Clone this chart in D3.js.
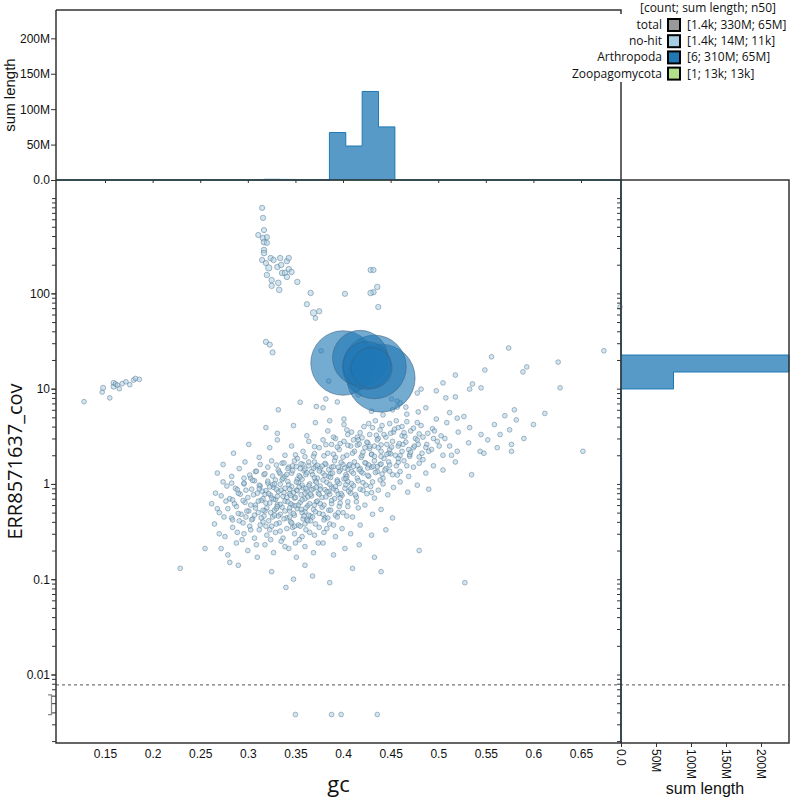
<!DOCTYPE html>
<html><head><meta charset="utf-8">
<script src="https://cdn.jsdelivr.net/npm/d3@7"></script>
<style>body{margin:0;background:#fff}svg{display:block}</style>
</head><body><svg id="c" width="800" height="800"></svg>
<script>
// ---------------- data ----------------
const categories = ["total", "no-hit", "Arthropoda", "Zoopagomycota"];
const categoryColors = ["#999999", "#a6cee3", "#1f78b4", "#b2df8a"];
const legendValues = ["[1.4k; 330M; 65M]", "[1.4k; 14M; 11k]", "[6; 310M; 65M]", "[1; 13k; 13k]"];
const legendHeader = "[count; sum length; n50]";

const gcTicks = [0.15, 0.2, 0.25, 0.3, 0.35, 0.4, 0.45, 0.5, 0.55, 0.6, 0.65];
const gcTickLabels = ["0.15", "0.2", "0.25", "0.3", "0.35", "0.4", "0.45", "0.5", "0.55", "0.6", "0.65"];
const covTicks = [0.01, 0.1, 1, 10, 100];
const covTickLabels = ["0.01", "0.1", "1", "10", "100"];
const lengthTicks = [0, 50e6, 100e6, 150e6, 200e6];
const lengthTickLabels = ["0.0", "50M", "100M", "150M", "200M"];

const gcDomain = [0.0985, 0.692];
const covDomain = [0.00191, 1549];
const lengthMax = 240e6;
const covThreshold = 0.0078;
const zeroCovDisplay = 0.0038;
const zeroBracket = [0.0061, 0.0038];
const gcBinStart = 0.0933, gcBinWidth = 0.0172, gcBinCount = 36;
const covBinLogStart = -2.741, covBinLogWidth = 0.178, covBinCount = 34;

// Arthropoda contigs
const arthGc = [0.400, 0.418, 0.433, 0.440, 0.425, 0.430];
const arthCov = [18.6, 21.0, 16.9, 12.9, 17.5, 16.5];
const arthLen = [67e6, 48e6, 65e6, 75e6, 35e6, 25e6];
// Zoopagomycota contig
const zoopGc = [0.425];
const zoopCov = [17];
const zoopLen = [13000];

// no-hit contigs: [gc, coverage, length (default 10 kb)]
const noHitPoints = [
[0.128,7.3],[0.147,9.2],[0.148,10.2,25000],[0.155,8.0],[0.159,11.5,25000],[0.159,10.5,25000],[0.161,11.2],[0.163,10.9],[0.168,11.3],[0.172,11.8],[0.176,11.0],[0.18,12.3],[0.182,12.8],[0.186,12.5],[0.165,10.0],
[0.315,790,30000],[0.316,620,30000],[0.317,462,30000],[0.311,410,30000],[0.316,381,50000],[0.320,390,30000],[0.317,345,50000],[0.320,339,30000],[0.317,285,50000],[0.317,265,50000],[0.315,224,30000],[0.319,208,30000],[0.324,235,40000],[0.327,224,40000],[0.334,235,40000],[0.341,218,40000],[0.343,235,40000],[0.322,185,100000],[0.331,189,40000],[0.335,199,40000],[0.336,164,50000],[0.339,164,50000],[0.341,149,50000],[0.343,180,40000],[0.346,168,40000],[0.320,156,40000],[0.325,138,40000],[0.325,120,40000],[0.332,129,50000],[0.333,109,50000],[0.352,132,40000],[0.366,101,40000],[0.402,99,30000],[0.429,176,30000],[0.432,176,30000],[0.436,117,40000],[0.432,103,40000],[0.429,101,50000],[0.362,77,30000],[0.369,62.5,100000],[0.375,65,30000],[0.437,72,30000],[0.371,55],[0.319,31,30000],[0.323,29,30000],[0.326,24,25000],[0.377,25],
[0.556,21.6],[0.574,26.7],[0.593,16.9],[0.589,15],[0.626,19],[0.674,25],[0.691,72],[0.628,10.2],[0.545,10.2],[0.533,9.9],[0.518,13.9],[0.549,15.7],[0.505,11.5],[0.498,9.5],[0.508,8.0],[0.518,8.2],[0.536,11.2],[0.482,9.9],[0.385,12.0],
[0.577,2.6],[0.577,2.2],[0.575,3.7],[0.582,4.7],[0.58,6.0],[0.652,2.2],[0.559,4.2],[0.565,3.3],[0.552,2.9],[0.544,2.2],[0.52,4.9],[0.60,4.2],[0.59,3.0],[0.612,5.5],[0.57,5.2],
[0.382,7.8],[0.394,7.25],[0.379,6.3],[0.416,8.6],[0.451,7.8],[0.457,7.4],[0.460,7.1],[0.478,9.0],[0.479,5.7],[0.466,6.4],[0.467,5.4],[0.457,6.4],[0.452,6.0],[0.442,5.3],[0.430,5.8],[0.401,4.8],[0.355,7.2],[0.332,6.0],[0.372,6.5],[0.498,4.8],[0.512,5.6],[0.527,5.1],[0.487,6.3],
[0.331,3.4],[0.348,4.1],[0.362,3.2],[0.371,4.4],[0.384,3.6],[0.392,3.0],[0.401,4.2],[0.409,3.5],[0.415,3.1],[0.422,4.0],[0.428,3.3],[0.434,4.6],[0.439,3.7],[0.445,3.1],[0.449,4.3],[0.453,3.5],[0.458,3.9],[0.462,3.2],[0.467,4.5],[0.471,3.6],[0.476,3.0],[0.482,4.1],[0.489,3.4],[0.494,3.8],[0.503,3.2],[0.509,4.4],[0.521,3.5],[0.533,3.9],[0.545,3.3],[0.319,3.9],[0.386,4.6],[0.437,3.0],[0.456,4.6],
[0.285,2.1],[0.301,2.6],[0.312,1.9],[0.323,2.4],[0.331,2.9],[0.339,2.0],[0.346,2.5],[0.352,1.85],[0.358,2.2],[0.364,2.8],[0.369,1.95],[0.375,2.4],[0.379,2.9],[0.384,2.1],[0.388,2.6],[0.392,1.9],[0.396,2.3],[0.401,2.8],[0.404,2.0],[0.408,2.5],[0.412,2.2],[0.416,2.9],[0.419,1.9],[0.423,2.4],[0.426,2.7],[0.43,2.05],[0.433,2.5],[0.436,2.9],[0.44,2.2],[0.443,1.85],[0.446,2.6],[0.449,2.3],[0.452,2.8],[0.455,2.0],[0.458,2.5],[0.462,2.2],[0.466,2.75],[0.47,1.95],[0.474,2.4],[0.478,2.9],[0.483,2.1],[0.488,2.6],[0.493,2.3],[0.499,2.8],[0.505,2.0],[0.512,2.5],[0.52,2.2],[0.532,2.7],[0.548,2.1],[0.562,2.4],[0.415,2.55],[0.397,2.65],[0.428,2.35],
[0.268,1.3],[0.274,1.6],[0.283,1.2],[0.291,1.45],[0.297,1.7],[0.303,1.15],[0.308,1.35],[0.313,1.6],[0.317,1.25],[0.321,1.5],[0.325,1.75],[0.329,1.1],[0.332,1.4],[0.336,1.65],[0.339,1.2],[0.343,1.5],[0.346,1.3],[0.349,1.75],[0.352,1.12],[0.355,1.45],[0.358,1.6],[0.361,1.25],[0.364,1.55],[0.367,1.35],[0.37,1.7],[0.373,1.15],[0.376,1.45],[0.379,1.3],[0.382,1.6],[0.385,1.2],[0.388,1.5],[0.391,1.75],[0.394,1.1],[0.397,1.4],[0.4,1.6],[0.403,1.25],[0.406,1.55],[0.409,1.35],[0.412,1.7],[0.415,1.15],[0.418,1.45],[0.421,1.3],[0.424,1.65],[0.427,1.2],[0.43,1.5],[0.433,1.75],[0.436,1.35],[0.439,1.6],[0.442,1.15],[0.445,1.45],[0.448,1.7],[0.452,1.25],[0.456,1.55],[0.46,1.35],[0.464,1.75],[0.469,1.2],[0.474,1.5],[0.48,1.65],[0.487,1.3],[0.495,1.55],[0.505,1.4],[0.518,1.7],[0.535,1.25],[0.359,1.38],[0.387,1.28],[0.405,1.42],[0.427,1.58],[0.334,1.28],[0.371,1.52],
[0.272,0.75],[0.278,0.95],[0.266,0.8],[0.274,1.05],[0.281,0.7],[0.287,0.9],[0.292,0.78],[0.296,1.0],[0.3,0.72],[0.304,0.88],[0.307,1.08],[0.31,0.8],[0.313,0.95],[0.316,0.7],[0.319,0.85],[0.321,1.02],[0.324,0.76],[0.327,0.92],[0.329,0.69],[0.332,0.83],[0.334,0.99],[0.337,0.74],[0.339,0.9],[0.342,1.06],[0.344,0.79],[0.346,0.94],[0.349,0.71],[0.351,0.86],[0.353,1.03],[0.356,0.77],[0.358,0.91],[0.36,0.7],[0.362,0.84],[0.365,1.0],[0.367,0.75],[0.369,0.89],[0.371,1.07],[0.374,0.8],[0.376,0.95],[0.378,0.72],[0.381,0.87],[0.383,1.04],[0.386,0.78],[0.388,0.93],[0.391,0.7],[0.393,0.85],[0.396,1.01],[0.399,0.76],[0.402,0.9],[0.405,1.06],[0.408,0.8],[0.411,0.96],[0.414,0.73],[0.418,0.88],[0.421,1.03],[0.425,0.79],[0.429,0.94],[0.433,0.71],[0.437,0.86],[0.442,1.0],[0.447,0.77],[0.453,0.92],[0.46,1.05],[0.468,0.82],[0.478,0.97],[0.49,0.88],[0.335,0.86],[0.348,0.81],[0.357,0.97],[0.363,0.73],[0.372,0.92],[0.385,0.83],[0.395,0.78],[0.403,0.98],[0.318,0.78],[0.326,0.98],[0.341,0.72],[0.354,0.93],
[0.268,0.55],[0.275,0.45],[0.262,0.62],[0.27,0.5],[0.277,0.66],[0.283,0.44],[0.288,0.58],[0.293,0.48],[0.297,0.64],[0.301,0.52],[0.305,0.43],[0.308,0.6],[0.311,0.5],[0.314,0.67],[0.317,0.46],[0.32,0.56],[0.323,0.63],[0.326,0.45],[0.328,0.53],[0.331,0.61],[0.334,0.48],[0.336,0.57],[0.339,0.66],[0.341,0.44],[0.344,0.52],[0.347,0.6],[0.349,0.47],[0.352,0.55],[0.355,0.64],[0.358,0.43],[0.36,0.51],[0.363,0.59],[0.366,0.46],[0.369,0.54],[0.372,0.65],[0.375,0.49],[0.378,0.57],[0.381,0.44],[0.385,0.53],[0.388,0.62],[0.392,0.47],[0.396,0.58],[0.4,0.5],[0.405,0.65],[0.41,0.45],[0.416,0.56],[0.423,0.6],[0.431,0.48],[0.44,0.54],[0.452,0.44],[0.33,0.55],[0.345,0.62],[0.357,0.5],[0.318,0.52],[0.362,0.42],[0.37,0.6],
[0.27,0.3],[0.265,0.38],[0.276,0.28],[0.284,0.35],[0.291,0.41],[0.296,0.3],[0.302,0.36],[0.307,0.27],[0.312,0.33],[0.316,0.4],[0.32,0.29],[0.325,0.36],[0.329,0.31],[0.333,0.39],[0.337,0.27],[0.341,0.34],[0.345,0.4],[0.349,0.3],[0.353,0.37],[0.357,0.28],[0.361,0.33],[0.366,0.41],[0.37,0.29],[0.375,0.35],[0.38,0.31],[0.386,0.38],[0.392,0.28],[0.399,0.34],[0.408,0.3],[0.418,0.37],[0.43,0.29],[0.445,0.33],[0.323,0.33],[0.347,0.35],[0.36,0.38],
[0.272,0.21],[0.279,0.18],[0.288,0.24],[0.3,0.2],[0.31,0.17],[0.318,0.23],[0.327,0.19],[0.335,0.25],[0.343,0.21],[0.351,0.17],[0.36,0.22],[0.369,0.19],[0.379,0.24],[0.39,0.18],[0.402,0.21],[0.417,0.23],[0.433,0.17],[0.48,0.2],[0.255,0.21],[0.35,0.24],
[0.229,0.13],[0.29,0.14],[0.325,0.12],[0.348,0.1],[0.368,0.108],[0.386,0.092],[0.34,0.082],[0.41,0.13],[0.44,0.12],[0.528,0.092],[0.36,0.14],[0.281,0.15],
[0.302,1.24],[0.309,1.36],[0.318,1.28],[0.326,1.21],[0.333,1.33],[0.341,1.26],[0.347,1.38],[0.354,1.22],[0.362,1.31],[0.368,1.25],[0.375,1.37],[0.381,1.23],[0.389,1.3],[0.396,1.35],[0.404,1.2],[0.411,1.29],[0.419,1.34],[0.426,1.23],[0.434,1.32],[0.441,1.27],[0.449,1.36],[0.457,1.24],
[0.296,1.02],[0.305,1.09],[0.312,0.97],[0.321,1.07],[0.328,1.0],[0.336,1.11],[0.343,0.98],[0.351,1.05],[0.357,1.12],[0.364,0.96],[0.372,1.04],[0.379,1.1],[0.386,0.99],[0.394,1.06],[0.401,1.13],[0.409,1.01],[0.416,1.08],[0.424,0.97],[0.431,1.05],[0.439,1.1],
[0.29,0.8],[0.298,0.86],[0.306,0.77],[0.315,0.84],[0.322,0.79],[0.33,0.88],[0.338,0.81],[0.345,0.76],[0.352,0.85],[0.36,0.8],[0.367,0.87],[0.375,0.78],[0.383,0.83],[0.39,0.89],[0.398,0.79],[0.406,0.84],[0.413,0.77],[0.421,0.86],[0.43,0.81],
[0.286,0.62],[0.295,0.67],[0.303,0.6],[0.311,0.66],[0.319,0.63],[0.327,0.69],[0.334,0.61],[0.342,0.65],[0.35,0.59],[0.357,0.68],[0.365,0.62],[0.373,0.66],[0.38,0.6],[0.388,0.67],[0.397,0.63],[0.405,0.58],[0.414,0.65],
[0.29,0.49],[0.299,0.52],[0.307,0.47],[0.316,0.53],[0.324,0.5],[0.332,0.46],[0.339,0.52],[0.348,0.49],[0.356,0.54],[0.364,0.47],[0.371,0.51],[0.379,0.48],[0.387,0.53],[0.395,0.5],[0.404,0.46],
[0.295,0.39],[0.304,0.42],[0.313,0.37],[0.322,0.41],[0.33,0.38],[0.338,0.43],[0.346,0.39],[0.355,0.36],[0.363,0.41],[0.371,0.38],[0.38,0.42],[0.39,0.37],
[0.33,1.58],[0.338,1.66],[0.347,1.55],[0.356,1.63],[0.364,1.7],[0.373,1.57],[0.381,1.64],[0.39,1.52],[0.398,1.68],[0.407,1.6],[0.415,1.56],[0.423,1.67],[0.432,1.53],[0.44,1.62],[0.449,1.58],[0.458,1.69],[0.467,1.55],
[0.35,2.02],[0.36,1.93],[0.37,2.08],[0.38,1.97],[0.39,2.05],[0.4,1.91],[0.41,2.1],[0.42,1.99],[0.43,2.04],[0.44,1.94],[0.45,2.07],[0.46,1.98],[0.47,2.03],[0.48,1.92],
[0.37,2.46],[0.382,2.58],[0.394,2.43],[0.405,2.55],[0.417,2.62],[0.428,2.48],[0.44,2.57],[0.451,2.44],[0.463,2.6],[0.475,2.5],[0.487,2.42],
[0.39,3.1],[0.405,3.3],[0.42,3.05],[0.435,3.25],[0.45,3.4],[0.465,3.15],[0.48,3.35],[0.495,3.0],
[0.323,0.93],[0.331,0.74],[0.337,1.15],[0.344,0.88],[0.35,0.72],[0.355,1.18],[0.361,0.9],[0.366,0.78],[0.37,1.16],[0.376,0.88],[0.382,0.73],[0.387,1.17],[0.392,0.94],[0.397,0.71],[0.403,1.14],[0.408,0.89],[0.344,0.56],[0.353,0.6],[0.361,0.56],[0.368,0.45],[0.376,0.62],[0.384,0.44],[0.331,0.58],[0.325,0.71],[0.312,0.89],[0.308,0.56],[0.342,1.45],[0.351,1.52],[0.36,1.43],[0.369,1.46],[0.378,1.54],[0.385,1.41],[0.395,1.5],[0.402,1.47],[0.411,1.53],[0.417,1.41],[0.426,1.47],[0.436,1.52],[0.444,1.4],
[0.404,3.7],[0.411,2.9],[0.418,3.45],[0.425,2.75],[0.431,3.9],[0.437,2.4],[0.443,3.3],[0.448,2.1],[0.454,3.75],[0.459,2.65],[0.464,3.45],[0.469,2.3],[0.474,3.85],[0.479,2.6],[0.484,3.1],[0.49,2.2],[0.496,3.6],[0.501,2.5],[0.507,3.0],[0.514,2.0],[0.421,2.15],[0.433,1.95],[0.446,2.05],[0.458,1.85],[0.471,2.15],[0.484,1.8],[0.441,4.1],[0.427,4.3],[0.462,4.0],[0.478,4.4],
[0.284,0.42],[0.289,0.31],[0.294,0.26],[0.298,0.45],[0.303,0.33],[0.309,0.23],[0.314,0.44],[0.319,0.36],[0.324,0.26],[0.328,0.47],[0.334,0.32],[0.339,0.22],[0.344,0.45],[0.349,0.36],[0.354,0.26],[0.359,0.46],[0.365,0.31],[0.374,0.24],[0.383,0.34],[0.394,0.45],[0.279,0.55],[0.284,0.68],[0.289,0.87],[0.283,1.02],[0.296,1.15],
[0.35,0],[0.388,0],[0.398,0],[0.436,0]
];

// ---------------- drawing ----------------
const svg = d3.select("#c");
const L = 56, R = 621, T = 180, B = 743, TOPH = 10, RIGHTH = 789;
const tickFont = "'Liberation Sans', Arial, Helvetica, sans-serif";
const labelFont = "'Open Sans', sans-serif";
const axisColor = "#333";

const x = d3.scaleLinear().domain(gcDomain).range([L, R]);
const y = d3.scaleLog().domain(covDomain).range([B, T]);
const hTop = d3.scaleLinear().domain([0, lengthMax]).range([T, TOPH]);
const hRight = d3.scaleLinear().domain([0, lengthMax]).range([R, RIGHTH]);
const rScale = d3.scaleSqrt().domain([0, d3.max(arthLen)]).range([2, 34]);

const covPos = c => y(c > 0 ? c : zeroCovDisplay);

const noHit = noHitPoints.map(p => ({gc: p[0], cov: p[1], len: p[2] || 10000}));
const arth = arthGc.map((g, i) => ({gc: g, cov: arthCov[i], len: arthLen[i]}));
const zoop = zoopGc.map((g, i) => ({gc: g, cov: zoopCov[i], len: zoopLen[i]}));

// histogram bins
const gcEdges = d3.range(gcBinCount + 1).map(i => gcBinStart + i * gcBinWidth);
const covEdges = d3.range(covBinCount + 1).map(i => Math.pow(10, covBinLogStart + i * covBinLogWidth));
function sumBins(pts, edges, acc) {
  const sums = new Array(edges.length - 1).fill(0);
  pts.forEach(p => {
    const v = acc(p);
    for (let i = 0; i < edges.length - 1; i++) {
      if (v >= edges[i] && v < edges[i + 1]) { sums[i] += p.len; break; }
    }
  });
  return sums;
}
const clampX = v => Math.max(L, Math.min(R, v));
const clampY = v => Math.max(T, Math.min(B, v));
function topPath(sums) {
  let d = `M${clampX(x(gcEdges[0]))},${hTop(0)}`;
  sums.forEach((s, i) => {
    d += `L${clampX(x(gcEdges[i]))},${hTop(s)}L${clampX(x(gcEdges[i + 1]))},${hTop(s)}`;
  });
  d += `L${clampX(x(gcEdges[gcEdges.length - 1]))},${hTop(0)}Z`;
  return d;
}
function rightPath(sums) {
  let d = `M${hRight(0)},${clampY(y(covEdges[0]))}`;
  sums.forEach((s, i) => {
    d += `L${hRight(s)},${clampY(y(covEdges[i]))}L${hRight(s)},${clampY(y(covEdges[i + 1]))}`;
  });
  d += `L${hRight(0)},${clampY(y(covEdges[covEdges.length - 1]))}Z`;
  return d;
}

const histSeries = [
  {pts: noHit, color: categoryColors[1]},
  {pts: zoop, color: categoryColors[3]},
  {pts: arth, color: categoryColors[2]}
];
histSeries.forEach(s => {
  svg.append("path").attr("d", topPath(sumBins(s.pts, gcEdges, p => p.gc)))
    .attr("fill", s.color).attr("fill-opacity", 0.75).attr("stroke", s.color).attr("stroke-width", 1);
  svg.append("path").attr("d", rightPath(sumBins(s.pts.filter(p => p.cov > 0), covEdges, p => p.cov)))
    .attr("fill", s.color).attr("fill-opacity", 0.75).attr("stroke", s.color).attr("stroke-width", 1);
});

// threshold line and zero bracket
svg.append("line").attr("x1", L).attr("x2", RIGHTH).attr("y1", y(covThreshold)).attr("y2", y(covThreshold))
  .attr("stroke", "#777").attr("stroke-width", 1.2).attr("stroke-dasharray", "3,3");
svg.append("path")
  .attr("d", `M${L - 8},${y(zeroBracket[0])}H${L - 4.5}V${y(zeroBracket[1])}H${L - 8}`)
  .attr("fill", "none").attr("stroke", "#888").attr("stroke-width", 1.2);

// scatter points
const plot = svg.append("g");
plot.selectAll("circle.nh").data(noHit).join("circle").attr("class", "nh")
  .attr("cx", d => x(d.gc)).attr("cy", d => covPos(d.cov)).attr("r", d => rScale(d.len))
  .attr("fill", categoryColors[1]).attr("fill-opacity", 0.5)
  .attr("stroke", "#50708a").attr("stroke-opacity", 0.6).attr("stroke-width", 0.8);
plot.selectAll("circle.zp").data(zoop).join("circle").attr("class", "zp")
  .attr("cx", d => x(d.gc)).attr("cy", d => covPos(d.cov)).attr("r", d => rScale(d.len))
  .attr("fill", categoryColors[3]).attr("fill-opacity", 0.6)
  .attr("stroke", "#5a7a4a").attr("stroke-opacity", 0.6).attr("stroke-width", 0.8);
plot.selectAll("circle.ar").data(arth.slice().sort((a, b) => b.len - a.len)).join("circle").attr("class", "ar")
  .attr("cx", d => x(d.gc)).attr("cy", d => covPos(d.cov)).attr("r", d => rScale(d.len))
  .attr("fill", categoryColors[2]).attr("fill-opacity", 0.62)
  .attr("stroke", "#3b5f7d").attr("stroke-opacity", 0.55).attr("stroke-width", 1);

// ---------------- axes ----------------
function styleAxis(g) {
  g.selectAll(".domain").remove();
  g.selectAll("line").attr("stroke", axisColor);
  g.selectAll("text").attr("font-family", tickFont).attr("font-size", 12).attr("fill", "#111");
}
const minorCov = [];
for (let e = -3; e <= 3; e++) for (let m = 1; m <= 9; m++) {
  const v = m * Math.pow(10, e);
  if (v >= covDomain[0] && v <= covDomain[1]) minorCov.push(v);
}
svg.append("g").attr("transform", `translate(${L},0)`)
  .call(d3.axisLeft(y).tickValues(minorCov).tickSize(4).tickFormat(""))
  .call(styleAxis);
svg.append("g").attr("transform", `translate(${L},0)`)
  .call(d3.axisLeft(y).tickValues(covTicks).tickSize(5).tickPadding(1).tickFormat((d, i) => covTickLabels[i]))
  .call(styleAxis);
svg.append("g").attr("transform", `translate(${R},0)`)
  .call(d3.axisLeft(y).tickValues(minorCov).tickSize(4).tickFormat(""))
  .call(styleAxis);
svg.append("g").attr("transform", `translate(0,${B})`)
  .call(d3.axisBottom(x).tickValues(gcTicks).tickSize(0).tickPadding(6).tickFormat((d, i) => gcTickLabels[i]))
  .call(styleAxis);
svg.append("g").attr("transform", `translate(0,${T})`)
  .call(d3.axisBottom(x).tickValues(gcTicks).tickSize(3).tickFormat(""))
  .call(styleAxis);
svg.append("g").attr("transform", `translate(${L},0)`)
  .call(d3.axisLeft(hTop).tickValues(lengthTicks).tickSize(5).tickPadding(1).tickFormat((d, i) => lengthTickLabels[i]))
  .call(styleAxis);
const rax = svg.append("g").attr("transform", `translate(0,${B})`)
  .call(d3.axisBottom(hRight).tickValues(lengthTicks).tickSize(4).tickFormat((d, i) => lengthTickLabels[i]))
  .call(styleAxis);
rax.selectAll("text").attr("transform", "rotate(90)").attr("x", 6).attr("y", 0).attr("dy", "0.35em")
  .attr("text-anchor", "start");

// frames
const frame = svg.append("g").attr("stroke", axisColor).attr("stroke-width", 1.5).attr("fill", "none");
frame.append("path").attr("d", `M${L},${TOPH}V${B}H${RIGHTH}V${T}H${R}`);
frame.append("path").attr("d", `M${L},${T}H${R}V${TOPH}H${L}`);
frame.append("path").attr("d", `M${R},${T}V${B}`);

// axis titles
svg.append("text").attr("transform", `translate(22,${(T + B) / 2}) rotate(-90)`).attr("text-anchor", "middle")
  .attr("font-family", labelFont).attr("font-size", 20).attr("fill", "#111").text("ERR8571637_cov");
svg.append("text").attr("x", (L + R) / 2).attr("y", 792).attr("text-anchor", "middle")
  .attr("font-family", labelFont).attr("font-size", 22).attr("fill", "#111").text("gc");
svg.append("text").attr("transform", `translate(15,${(T + TOPH) / 2}) rotate(-90)`).attr("text-anchor", "middle")
  .attr("font-family", tickFont).attr("font-size", 15).attr("fill", "#111").text("sum length");
svg.append("text").attr("x", (R + RIGHTH) / 2).attr("y", 794).attr("text-anchor", "middle")
  .attr("font-family", tickFont).attr("font-size", 16).attr("fill", "#111").text("sum length");

// ---------------- legend ----------------
svg.append("rect").attr("x", 578).attr("y", 14).attr("width", 222).attr("height", 68).attr("fill", "#fff");
const lg = svg.append("g").attr("font-family", labelFont).attr("font-size", 12).attr("fill", "#111");
lg.append("text").attr("x", 776).attr("y", 12).attr("text-anchor", "end").text(legendHeader);
categories.forEach((c, i) => {
  const cy = 25 + i * 16.2;
  lg.append("rect").attr("x", 668).attr("y", cy - 6).attr("width", 12).attr("height", 12)
    .attr("fill", categoryColors[i]).attr("stroke", "#000").attr("stroke-width", 2);
  lg.append("text").attr("x", 662).attr("y", cy + 4).attr("text-anchor", "end").text(c);
  lg.append("text").attr("x", 687).attr("y", cy + 4).attr("text-anchor", "start").text(legendValues[i]);
});
</script>
</body></html>
